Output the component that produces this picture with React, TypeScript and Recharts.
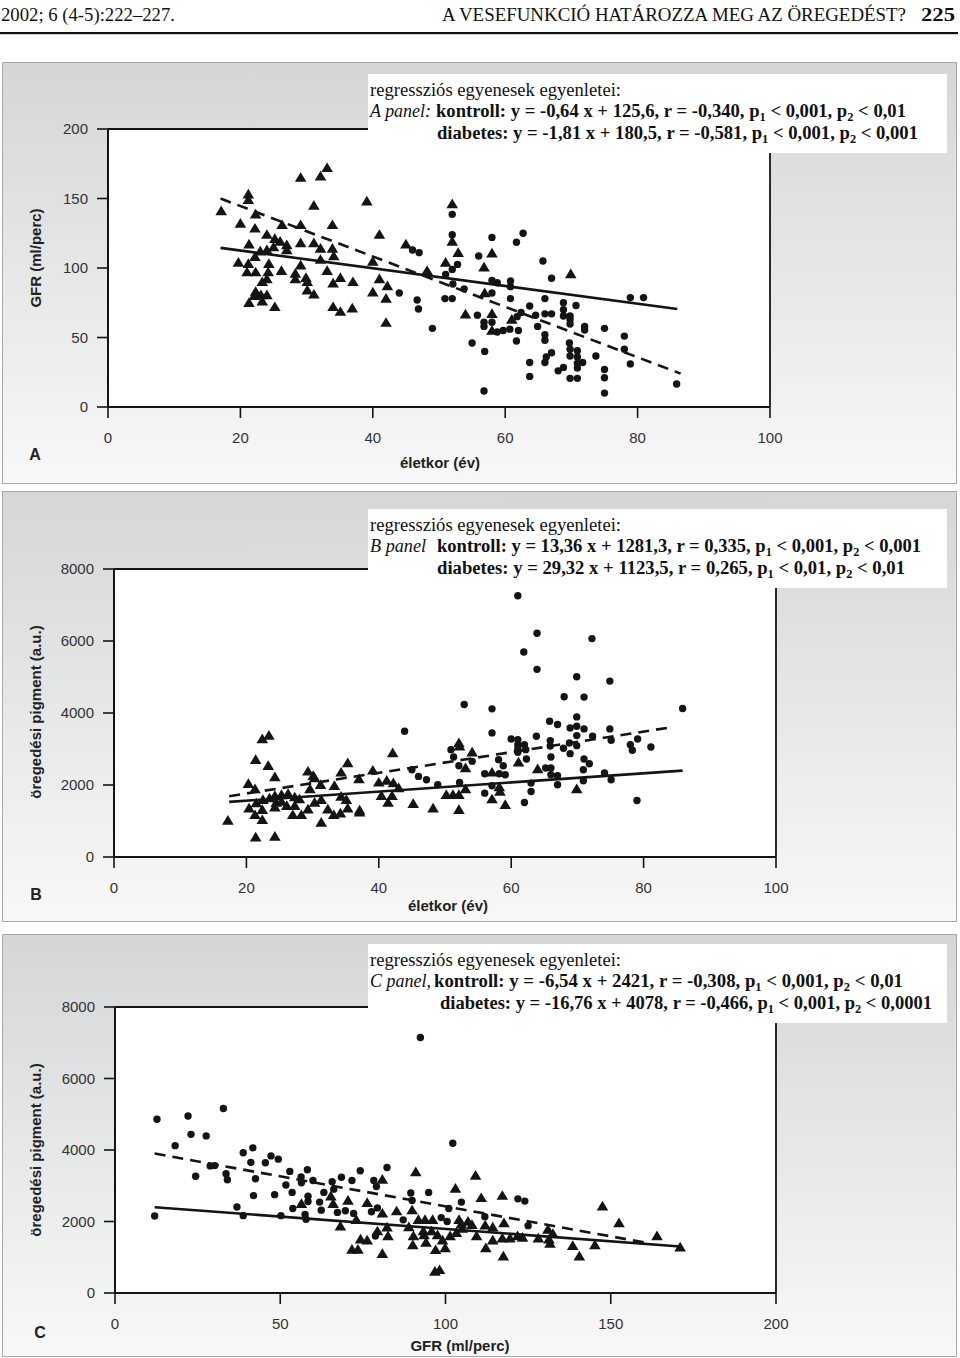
import React from 'react';
import { ScatterChart, Scatter, XAxis, YAxis, ReferenceLine, CartesianGrid } from 'recharts';

type Pt = [number, number];

// A panel: életkor (év) -> GFR (ml/perc)
const aKontroll: Pt[] = [
  [17.1, 141], [21.2, 153], [21.2, 149], [20, 132], [22.2, 128.5], [22.3, 138.6], [21.3, 117], [24, 124],
  [25.2, 121], [26, 119], [26.3, 131], [27, 116.5], [27, 113], [25, 115], [24, 113], [23, 112], [22.2, 108],
  [19.7, 104], [21.2, 103], [21, 97], [22.3, 97], [24.3, 103], [24.2, 97], [23.3, 90], [24, 92], [22.3, 83],
  [22.1, 80], [23.1, 80.6], [24, 80.6], [21.3, 75], [23.3, 76], [25.2, 72], [26.2, 98], [29.1, 131],
  [29.1, 118], [29.1, 102], [28.3, 96], [28.3, 92], [29.9, 93], [30.1, 90], [30.1, 84], [31.1, 81],
  [31.1, 118], [32.1, 114], [32.1, 106], [33.1, 98], [33.9, 114], [34.1, 108.6], [34, 89], [35.1, 93],
  [37, 90], [34, 72], [35.1, 68.6], [36.9, 71], [29.1, 165], [32.1, 166], [33.1, 172], [31.1, 145],
  [33.9, 131], [39.1, 148], [41, 124], [40, 104.6], [41, 92], [42.2, 87], [40, 82.5], [42, 78], [42, 60.7],
  [45, 117], [48.2, 98], [51, 104], [52, 146], [52, 119], [52.9, 111], [54, 66.7], [56.8, 100.5], [56.9, 82],
  [58, 110.6], [58, 67], [58, 55], [61, 63], [69.9, 95.7],
];
const aDiabetes: Pt[] = [
  [46, 113], [47, 111], [44, 82], [46.7, 77], [46.9, 70.5], [49, 56.6], [51, 95.4], [50.9, 78], [52, 78],
  [52, 138.6], [52, 124], [52, 99], [52.8, 102.6], [52.1, 88.5], [53.8, 85], [55, 46], [55.8, 66], [56, 108.6],
  [56.8, 61], [56.8, 58], [56.9, 40], [56.8, 11.5], [58, 122], [58, 91], [58, 82], [58, 61], [58.8, 89.4],
  [58.8, 54], [59.7, 55], [60.7, 56], [60.8, 90.6], [60.8, 86.6], [60.8, 78], [61.7, 118.5], [62.7, 125],
  [61.8, 65], [62, 55], [61.7, 47.5], [62.4, 68], [63.7, 72.7], [64.6, 66], [63.7, 32], [63.7, 22], [64.9, 58],
  [65.7, 105], [66, 78], [66, 67], [66, 52], [66, 48], [67, 92.6], [67, 67], [67, 39], [66.2, 36], [66, 32],
  [68, 26], [68.8, 28.5], [68.8, 75], [68.8, 70], [68.8, 65.5], [69.8, 65.5], [69.8, 63], [69.8, 59.7],
  [70.7, 73], [69.7, 46], [69.8, 41.5], [69.8, 36.7], [70.9, 40.5], [70.9, 36], [70.9, 31.4], [71.7, 32],
  [70.9, 28], [69.8, 20.6], [70.9, 20.6], [72, 58], [72, 55.4], [73.7, 36.7], [75, 56.6], [75, 27], [75, 21],
  [75, 10], [78, 51], [78, 41.5], [78.9, 31], [78.9, 78.7], [80.9, 78.7], [85.9, 16.5],
];
const aKontrollLine: Pt[] = [[17, 114.5], [86, 70.5]];
const aDiabetesLine: Pt[] = [[17, 150], [86.5, 24]];

// B panel: életkor (év) -> öregedési pigment (a.u.)
const bKontroll: Pt[] = [
  [17.2, 1013], [20.3, 2035], [21.3, 1886], [21.4, 2703], [22.4, 3279], [23.4, 3372], [23.3, 2536], [24.3, 2220],
  [20.4, 1356], [21.3, 1170], [22.4, 1310], [22.4, 1031], [21.4, 548], [24.3, 567], [21.5, 1496], [22.5, 1589],
  [23.5, 1635], [24.3, 1700], [25.3, 1728], [26.3, 1756], [24.5, 1514], [25.3, 1542], [24.3, 1384], [26.1, 1421],
  [27.3, 1663], [28, 1607], [27.3, 1421], [27, 1170], [28.3, 1170], [29.3, 2378], [30.1, 2257], [30.3, 2192],
  [29.6, 1886], [29.3, 1328], [30.3, 1514], [31.3, 1589], [31.2, 2007], [32.3, 1328], [31.3, 957], [33.3, 1979],
  [33.2, 1170], [34.3, 2350], [34.3, 1681], [34.2, 1217], [35.3, 2610], [35.1, 1589], [35.3, 1356], [37, 2165],
  [37.1, 1300], [37.1, 1245], [39.1, 2406], [40, 2072], [40.4, 1700], [41.2, 2127], [42.1, 2889], [42.2, 2053],
  [42, 1700], [41.4, 1514], [43, 1914], [45.2, 1477], [48.2, 1356], [50.2, 1728], [51.2, 1728], [52.1, 1728],
  [52.1, 1310], [52.1, 3168], [52.2, 3075], [53.1, 2471], [53.1, 1886], [54.1, 2907], [57.1, 2350], [57.1, 1607],
  [58.2, 1942], [58.3, 1821], [59.1, 1449], [61.1, 2629], [64, 2443], [69.9, 1886],
];
const bDiabetes: Pt[] = [
  [45, 2425], [46, 2239], [47.2, 2146], [48.9, 2007], [50.9, 2982], [51.3, 2778], [52.1, 2536], [52.2, 2072],
  [52.9, 4236], [54.1, 2657], [56, 2313], [56, 1774], [57.1, 4115], [57.1, 3447], [57.1, 1979], [58.1, 2703],
  [58.2, 2313], [58.8, 2536], [59.1, 2285], [60, 3279], [61, 3261], [61, 3121], [61, 3001], [61, 2908], [62, 3121],
  [62.2, 2982], [62.3, 2722], [62, 1514], [61, 7255], [61.9, 5695], [63.9, 6215], [63.9, 5212], [63, 2053],
  [63, 1821], [63.8, 3354], [65.8, 3772], [65.9, 3233], [65.9, 3084], [67, 3679], [66, 2778], [65.2, 2471],
  [66, 2471], [66, 2285], [67, 2257], [67, 2007], [68, 4450], [67.9, 3019], [68.8, 3168], [68.9, 2871],
  [68.9, 3586], [69.9, 3633], [69.9, 3892], [69.9, 3372], [69.9, 3093], [69.9, 5007], [71, 4441], [71, 3558],
  [71, 2722], [70.9, 2425], [71.8, 2592], [70.9, 2118], [72.2, 6067], [72.3, 3354], [74.1, 2332], [74.9, 4886],
  [74.9, 3558], [75.1, 3242], [75.1, 2146], [78, 3121], [78.3, 2964], [79.1, 3279], [79, 1570], [81.1, 3056],
  [85.9, 4125], [43.9, 3493],
];
const bKontrollLine: Pt[] = [[17.4, 1530], [85.9, 2400]];
const bDiabetesLine: Pt[] = [[17.4, 1690], [84.4, 3610]];

// C panel: GFR (ml/perc) -> öregedési pigment (a.u.)
const cKontroll: Pt[] = [
  [56.4, 2498], [65.3, 2705], [66, 2498], [68.2, 1865], [70.5, 2588], [73, 2046], [71.7, 1215], [73.5, 1215],
  [74.3, 1504], [76.3, 1477], [76.3, 2525], [79.4, 1730], [80.9, 3175], [80.9, 2227], [80.9, 1098], [82.3, 1838],
  [82.6, 1594], [85.2, 2290], [88.9, 1847], [89.9, 2317], [90.3, 1594], [90.1, 1341], [91, 3383], [91.8, 2046],
  [93.3, 1730], [93.8, 2046], [93.5, 1621], [94.1, 1413], [96.1, 2046], [95.8, 1730], [97.6, 1621], [97, 1206],
  [96.8, 601], [98.2, 646], [99.1, 1477], [99.9, 1260], [101.4, 1594], [103.3, 1685], [103, 2922], [104.1, 2046],
  [105.1, 1802], [106.8, 2001], [108, 1911], [109.1, 3284], [109.4, 1594], [110.8, 2660], [112, 1893],
  [112.2, 1260], [114.3, 1838], [114.3, 1477], [117.2, 2723], [117.7, 1956], [117.2, 1531], [117.5, 1025],
  [119.5, 1531], [121.8, 1594], [123.3, 1549], [128.1, 1531], [131, 1775], [131.3, 1504], [131.6, 1386],
  [132.5, 1657], [138.5, 1323], [140.5, 1025], [145.2, 1341], [147.5, 2425], [152.5, 1956], [164, 1594],
  [171, 1278], [104.8, 1929],
];
const cDiabetes: Pt[] = [
  [12.7, 4862], [12, 2155], [22.1, 4953], [23, 4438], [18.2, 4122], [27.6, 4394], [24.4, 3266], [28.8, 3555],
  [30.2, 3564], [32.8, 5160], [33.6, 3338], [34, 3166], [36.9, 2407], [38.8, 2164], [38.8, 3925], [41.1, 3654],
  [41.7, 4060], [42.5, 3194], [41.9, 2724], [45.5, 3645], [47.2, 3835], [49.4, 3744], [48.3, 2751], [50.2, 2164],
  [51.7, 3022], [52.9, 3401], [53.6, 2814], [53.8, 2362], [56.3, 3248], [56.4, 3085], [57.5, 2199], [57.8, 2064],
  [58.4, 2561], [58.4, 2705], [58.2, 3446], [59.9, 3148], [61.9, 2543], [62.4, 2317], [63.2, 2814], [65.7, 3112],
  [66.2, 2905], [67.3, 2254], [68.5, 3239], [69.7, 2299], [71.7, 3148], [72.2, 2227], [74.2, 3419], [77.6, 2272],
  [78.3, 3148], [79.1, 2977], [79.4, 2381], [78.8, 1594], [82.3, 3509], [87.2, 2046], [89.5, 2796], [89.9, 2588],
  [92.4, 7148], [94.9, 2814], [98.7, 2109], [100.5, 2001], [101, 2362], [102.2, 4187], [104.8, 2543],
  [111.9, 2136], [121.9, 2633], [124, 2570], [125, 1884],
];
const cKontrollLine: Pt[] = [[12, 2400], [171, 1300]];
const cDiabetesLine: Pt[] = [[12, 3900], [161, 1400]];

const ageTicks = [0, 20, 40, 60, 80, 100];
const gfrTicks = [0, 50, 100, 150, 200];
const pigmentTicks = [0, 2000, 4000, 6000, 8000];

const ink = '#141414';
const sans = '"Liberation Sans", Arial, Helvetica, sans-serif';
const serif = '"Liberation Serif", "Times New Roman", serif';
const tickStyle = { fontFamily: sans, fontSize: 15, fill: '#333' };

const toPts = (arr: Pt[]) => arr.map(([x, y]) => ({ x, y }));

function Triangle(props: any) {
  const { cx, cy } = props;
  if (cx == null || cy == null) return <g />;
  return <path d={`M${cx},${cy - 5.5} L${cx + 5.8},${cy + 4.2} L${cx - 5.8},${cy + 4.2} Z`} fill={ink} />;
}

function Dot(props: any) {
  const { cx, cy } = props;
  if (cx == null || cy == null) return <g />;
  return <circle cx={cx} cy={cy} r={3.7} fill={ink} />;
}

function Panel({
  top, height, plot, xDomain, xTicks, yDomain, yTicks, kontroll, diabetes, kLine, dLine,
}: {
  top: number; height: number; plot: { left: number; right: number; top: number; bottom: number };
  xDomain: [number, number]; xTicks: number[]; yDomain: [number, number]; yTicks: number[];
  kontroll: Pt[]; diabetes: Pt[]; kLine: Pt[]; dLine: Pt[];
}) {
  const xAxisH = height - (plot.bottom - top);
  return (
    <div style={{ position: 'absolute', left: 0, top }}>
      <ScatterChart
        width={960}
        height={height}
        margin={{ top: plot.top - top, right: 960 - plot.right, left: 0, bottom: 0 }}
      >
        <CartesianGrid fill="#fff" stroke="none" horizontal={false} vertical={false} />
        <XAxis
          type="number" dataKey="x" domain={xDomain} ticks={xTicks} interval={0} height={xAxisH}
          tickSize={11} tickMargin={14} tick={tickStyle}
          axisLine={{ stroke: ink, strokeWidth: 2 }} tickLine={{ stroke: ink, strokeWidth: 1.6 }}
          allowDataOverflow
        />
        <YAxis
          type="number" dataKey="y" domain={yDomain} ticks={yTicks} interval={0} width={plot.left}
          tickSize={11} tickMargin={9} tick={tickStyle}
          axisLine={{ stroke: ink, strokeWidth: 2 }} tickLine={{ stroke: ink, strokeWidth: 1.6 }}
          allowDataOverflow
        />
        <ReferenceLine y={yDomain[1]} stroke={ink} strokeWidth={1.8} />
        <ReferenceLine x={xDomain[1]} stroke={ink} strokeWidth={1.8} />
        <Scatter data={toPts(kontroll)} shape={Triangle} isAnimationActive={false} />
        <Scatter data={toPts(diabetes)} shape={Dot} isAnimationActive={false} />
        <ReferenceLine segment={toPts(kLine)} stroke={ink} strokeWidth={2.6} ifOverflow="visible" />
        <ReferenceLine segment={toPts(dLine)} stroke={ink} strokeWidth={2.6} strokeDasharray="11 7" ifOverflow="visible" />
      </ScatterChart>
    </div>
  );
}

// "p_1" -> p with a lowered, smaller 1
function Sub({ text }: { text: string }) {
  const parts = text.split(/_(\d)/);
  return (
    <>
      {parts.map((p, i) =>
        i % 2 === 1 ? (
          <tspan key={i} dy={4} fontSize={12}>{p}</tspan>
        ) : (
          <tspan key={i} dy={i > 0 ? -4 : 0}>{p}</tspan>
        ),
      )}
    </>
  );
}

function Note({
  top, label, labelLen, kontroll, kStart, kEnd, diabetes, dStart, dEnd,
}: {
  top: number; label: string; labelLen: number; kontroll: string; kStart: number; kEnd: number;
  diabetes: string; dStart: number; dEnd: number;
}) {
  const left = 368;
  return (
    <svg width={579} height={79} style={{ position: 'absolute', left, top, background: '#fff' }}>
      <text x={2} y={22} fontFamily={serif} fontSize={18} fill="#111" textLength={251} lengthAdjust="spacingAndGlyphs">
        regressziós egyenesek egyenletei:
      </text>
      <text x={2} y={43} fontFamily={serif} fontSize={18} fontStyle="italic" fill="#111" textLength={labelLen} lengthAdjust="spacingAndGlyphs">
        {label}
      </text>
      <text x={kStart - left} y={43} fontFamily={serif} fontSize={18} fontWeight="bold" fill="#111" textLength={kEnd - kStart} lengthAdjust="spacingAndGlyphs">
        <Sub text={kontroll} />
      </text>
      <text x={dStart - left} y={65} fontFamily={serif} fontSize={18} fontWeight="bold" fill="#111" textLength={dEnd - dStart} lengthAdjust="spacingAndGlyphs">
        <Sub text={diabetes} />
      </text>
    </svg>
  );
}

function Label({ x, y, text, rotate = false, size = 15 }: { x: number; y: number; text: string; rotate?: boolean; size?: number }) {
  return (
    <div
      style={{
        position: 'absolute', left: x, top: y, fontFamily: sans, fontWeight: 'bold', fontSize: size, color: '#222',
        whiteSpace: 'nowrap', transform: `translate(-50%, -50%)${rotate ? ' rotate(-90deg)' : ''}`,
      }}
    >
      {text}
    </div>
  );
}

function Box({ top, height }: { top: number; height: number }) {
  return (
    <div
      style={{
        position: 'absolute', left: 2, top, width: 955, height, boxSizing: 'border-box',
        border: '1.5px solid #a9a9a9', background: 'linear-gradient(to bottom, #d5d6d7 0%, #e4e5e5 45%, #f8f8f8 100%)',
      }}
    />
  );
}

export default function App() {
  return (
    <div style={{ position: 'absolute', left: 0, top: 0, width: 960, height: 1358, background: '#fff', overflow: 'hidden' }}>
      <svg width={960} height={40} style={{ position: 'absolute', left: 0, top: 0 }}>
        <text x={1} y={21} fontFamily={serif} fontSize={18} fill="#111" textLength={174} lengthAdjust="spacingAndGlyphs">
          2002; 6 (4-5):222–227.
        </text>
        <text x={442} y={21} fontFamily={serif} fontSize={18} fill="#111" textLength={464} lengthAdjust="spacingAndGlyphs">
          A VESEFUNKCIÓ HATÁROZZA MEG AZ ÖREGEDÉST?
        </text>
        <text x={921} y={21} fontFamily={serif} fontSize={18} fontWeight="bold" fill="#111" textLength={34} lengthAdjust="spacingAndGlyphs">
          225
        </text>
        <rect x={0} y={32} width={958} height={2.2} fill="#111" />
      </svg>

      <Box top={62} height={422} />
      <Panel
        top={62} height={422} plot={{ left: 108, right: 770, top: 129, bottom: 407 }}
        xDomain={[0, 100]} xTicks={ageTicks} yDomain={[0, 200]} yTicks={gfrTicks}
        kontroll={aKontroll} diabetes={aDiabetes} kLine={aKontrollLine} dLine={aDiabetesLine}
      />
      <Note
        top={74} label="A panel:" labelLen={61}
        kontroll="kontroll: y = -0,64 x + 125,6, r = -0,340, p_1 < 0,001, p_2 < 0,01" kStart={436} kEnd={906}
        diabetes="diabetes: y = -1,81 x + 180,5, r = -0,581, p_1 < 0,001, p_2 < 0,001" dStart={437} dEnd={918}
      />
      <Label x={35} y={258} text="GFR (ml/perc)" rotate />
      <Label x={440} y={462} text="életkor (év)" />
      <Label x={35} y={455} text="A" size={16} />

      <Box top={491} height={431} />
      <Panel
        top={491} height={431} plot={{ left: 114, right: 776, top: 569, bottom: 857 }}
        xDomain={[0, 100]} xTicks={ageTicks} yDomain={[0, 8000]} yTicks={pigmentTicks}
        kontroll={bKontroll} diabetes={bDiabetes} kLine={bKontrollLine} dLine={bDiabetesLine}
      />
      <Note
        top={509} label="B panel" labelLen={56}
        kontroll="kontroll: y = 13,36 x + 1281,3, r = 0,335, p_1 < 0,001, p_2 < 0,001" kStart={437} kEnd={921}
        diabetes="diabetes: y = 29,32 x + 1123,5, r = 0,265, p_1 < 0,01, p_2 < 0,01" dStart={437} dEnd={905}
      />
      <Label x={35} y={712} text="öregedési pigment (a.u.)" rotate />
      <Label x={448} y={905} text="életkor (év)" />
      <Label x={36} y={895} text="B" size={16} />

      <Box top={934} height={423} />
      <Panel
        top={934} height={423} plot={{ left: 115, right: 776, top: 1007, bottom: 1293 }}
        xDomain={[0, 200]} xTicks={gfrTicks} yDomain={[0, 8000]} yTicks={pigmentTicks}
        kontroll={cKontroll} diabetes={cDiabetes} kLine={cKontrollLine} dLine={cDiabetesLine}
      />
      <Note
        top={944} label="C panel," labelLen={61}
        kontroll="kontroll: y = -6,54 x + 2421, r = -0,308, p_1 < 0,001, p_2 < 0,01" kStart={434} kEnd={903}
        diabetes="diabetes: y = -16,76 x + 4078, r = -0,466, p_1 < 0,001, p_2 < 0,0001" dStart={440} dEnd={932}
      />
      <Label x={35} y={1150} text="öregedési pigment (a.u.)" rotate />
      <Label x={460} y={1345} text="GFR (ml/perc)" />
      <Label x={40} y={1333} text="C" size={16} />
    </div>
  );
}
